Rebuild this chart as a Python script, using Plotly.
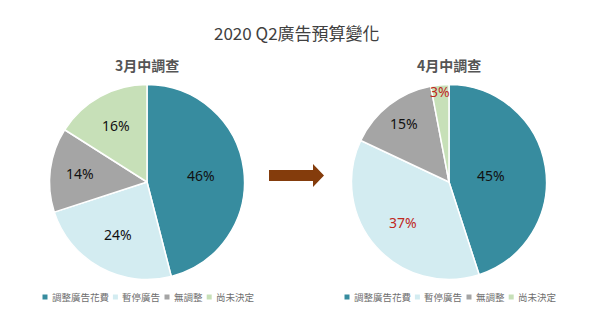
import math
import plotly.graph_objects as go

# Budget-change survey data
categories = ["調整廣告花費", "暫停廣告", "無調整", "尚未決定"]
march_values = [46, 24, 14, 16]
april_values = [45, 37, 15, 3]
march_title = "3月中調查"
april_title = "4月中調查"
chart_title = "2020 Q2廣告預算變化"

# Styling
W, H = 600, 326
colors = ["#378C9F", "#D3ECF1", "#A5A5A5", "#C7E0B8"]
CJK = "Noto Sans CJK TC"
R = 97.5
pie_centers = [(147, 182), (449, 182)]
label_radius = [[0.56, 0.62, 0.69, 0.66], [0.44, 0.63, 0.76, 0.93]]
label_colors = [["#111111"] * 4, ["#111111", "#C0281E", "#111111", "#C0281E"]]


def px(x):
    return x / W


def py(y):
    return 1 - y / H


fig = go.Figure()
annotations = []
shapes = []

for (cx, cy), vals, name, rfr, lcol in zip(
    pie_centers, [march_values, april_values], [march_title, april_title],
    label_radius, label_colors
):
    fig.add_trace(go.Pie(
        labels=categories,
        values=vals,
        sort=False,
        direction="clockwise",
        rotation=0,
        marker=dict(colors=colors, line=dict(color="white", width=1.5)),
        textinfo="none",
        hoverinfo="label+percent",
        showlegend=False,
        domain=dict(x=[px(cx - R), px(cx + R)], y=[py(cy + R), py(cy - R)]),
    ))
    # percentage labels at each slice's mid-angle
    total = sum(vals)
    acc = 0
    for v, rf, c in zip(vals, rfr, lcol):
        mid = (acc + v / 2) / total * 2 * math.pi
        acc += v
        r = rf * R
        annotations.append(dict(
            x=px(cx + r * math.sin(mid)), y=py(cy - r * math.cos(mid)),
            xref="paper", yref="paper", showarrow=False,
            text=f"{round(v / total * 100)}%",
            font=dict(family="Noto Sans", size=14, color=c),
            xanchor="center", yanchor="middle",
        ))
    # sub-title above each pie
    annotations.append(dict(
        x=px(cx), y=py(65), xref="paper", yref="paper", showarrow=False,
        text=f"<b>{name}</b>", font=dict(family=CJK, size=14, color="#555555"),
        xanchor="center", yanchor="middle",
    ))

# Legends under each pie
char_w = 9.4
for start in (45, 347):
    x = start
    for cat, col in zip(categories, colors):
        shapes.append(dict(
            type="rect", xref="paper", yref="paper",
            x0=px(x - 2.5), x1=px(x + 2.5), y0=py(299.5), y1=py(294.5),
            fillcolor=col, line=dict(width=0),
        ))
        annotations.append(dict(
            x=px(x + 5), y=py(297), xref="paper", yref="paper", showarrow=False,
            text=cat, font=dict(family=CJK, size=9.5, color="#6E6E6E"),
            xanchor="left", yanchor="middle",
        ))
        x += 14 + len(cat) * char_w

# Arrow between the two pies
ax0, ax1, ah, tip = 269, 313, 324, 175.5
path = (
    f"M {px(ax0)},{py(170)} L {px(ax1)},{py(170)} L {px(ax1)},{py(164)} "
    f"L {px(ah)},{py(tip)} L {px(ax1)},{py(187)} L {px(ax1)},{py(181)} "
    f"L {px(ax0)},{py(181)} Z"
)
shapes.append(dict(type="path", xref="paper", yref="paper", path=path,
                   fillcolor="#843C0C", line=dict(width=0)))

# Main title
annotations.append(dict(
    x=px(297), y=py(33), xref="paper", yref="paper", showarrow=False,
    text=chart_title, font=dict(family=CJK, size=17, color="#404040"),
    xanchor="center", yanchor="middle",
))

fig.update_layout(
    width=W, height=H,
    margin=dict(l=0, r=0, t=0, b=0),
    paper_bgcolor="white", plot_bgcolor="white",
    annotations=annotations, shapes=shapes,
)

fig.write_html("out.html", config={"displayModeBar": False})
